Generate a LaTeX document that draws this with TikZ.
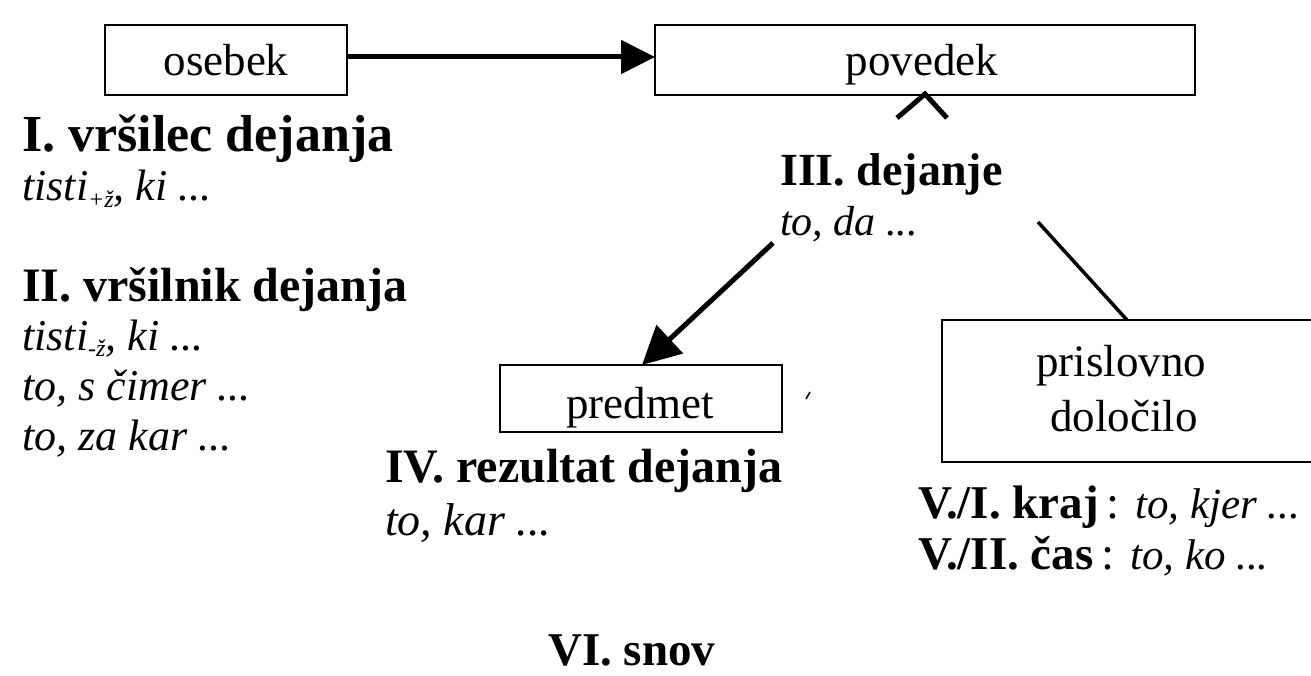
\documentclass[tikz,border=0pt]{standalone}
\usepackage{fontspec}
\setmainfont{Liberation Serif}
\usetikzlibrary{arrows.meta}
\begin{document}
\begin{tikzpicture}[x=1pt,y=-1pt,
  box/.style={draw,line width=1.6pt,inner sep=0pt},
  boxtxt/.style={font=\fontsize{45}{50}\selectfont,inner sep=0pt,anchor=base},
  head/.style={font=\bfseries\fontsize{48}{52}\selectfont,anchor=base west,inner sep=0pt},
  sub/.style={font=\itshape\fontsize{44}{50}\selectfont,anchor=base west,inner sep=0pt},
  conn/.style={line width=5pt}]
\useasboundingbox (0,0) rectangle (1311,676);
% boxes
\draw[box] (105,25) rectangle (347,95);
\node[boxtxt] (osebek) at (226,76) {osebek};
\coordinate (osR) at (347,57);
\draw[box] (655,25) rectangle (1195,95);
\node[boxtxt] (povedek) at (922,76) {povedek};
\coordinate (povL) at (655,57);
\draw[box] (500,365) rectangle (782,432);
\node[boxtxt] (predmet) at (640,418) {predmet};
\coordinate (predTL) at (642,365);
\draw[box] (942,320) rectangle (1318,462);
\node[boxtxt] (prisl1) at (1121,376) {prislovno};
\node[boxtxt] (prisl2) at (1124,431) {določilo};
\coordinate (prTop) at (1127,320);
% connectors
\draw[conn,-{Triangle[length=34pt,width=33pt]}] (osR) -- (povL);
\coordinate (dejStart) at (773,243);
\draw[conn,-{Triangle[length=38pt,width=38pt]}] (dejStart) -- (predTL);
\coordinate (prisStart) at (1038,222);
\draw[line width=3.5pt] (prisStart) -- (prTop);
\coordinate (caretA) at (925,94);
\draw[line width=5pt] (897,118) -- (caretA) -- (947,118);
\draw[line width=1.5pt] (806,399) -- (810,392);
% labels
\node[head,font=\bfseries\fontsize{52}{56}\selectfont] (h1) at (22,152) {I. vršilec dejanja};
\node[sub] (s1) at (22,201) {tisti\raisebox{-0.15em}{\fontsize{24}{24}\selectfont +ž}, ki ...};
\node[head] (h2) at (22,301) {II. vršilnik dejanja};
\node[sub] (s2a) at (22,350) {tisti\raisebox{-0.15em}{\fontsize{24}{24}\selectfont -ž}, ki ...};
\node[sub] (s2b) at (22,400) {to, s čimer ...};
\node[sub] (s2c) at (22,450) {to, za kar ...};
\node[head,font=\bfseries\fontsize{46}{50}\selectfont] (h3) at (780,186) {III. dejanje};
\node[sub,font=\itshape\fontsize{42}{50}\selectfont] (s3) at (780,236) {to, da ...};
\node[head] (h4) at (385,482) {IV. rezultat dejanja};
\node[sub,font=\itshape\fontsize{46}{50}\selectfont] (s4) at (385,535) {to, kar ...};
\node[head,font=\bfseries\fontsize{47}{52}\selectfont] (h5a) at (918,518) {V./I. kraj\,{\normalfont:} {\normalfont\itshape\fontsize{43}{50}\selectfont to, kjer ...}};
\node[head,font=\bfseries\fontsize{47}{52}\selectfont] (h5b) at (918,569) {V./II. čas\,{\normalfont:} {\normalfont\itshape\fontsize{43}{50}\selectfont to, ko ...}};
\node[head,font=\bfseries\fontsize{47}{52}\selectfont] (h6) at (548,665) {VI. snov};
\end{tikzpicture}
\end{document}
